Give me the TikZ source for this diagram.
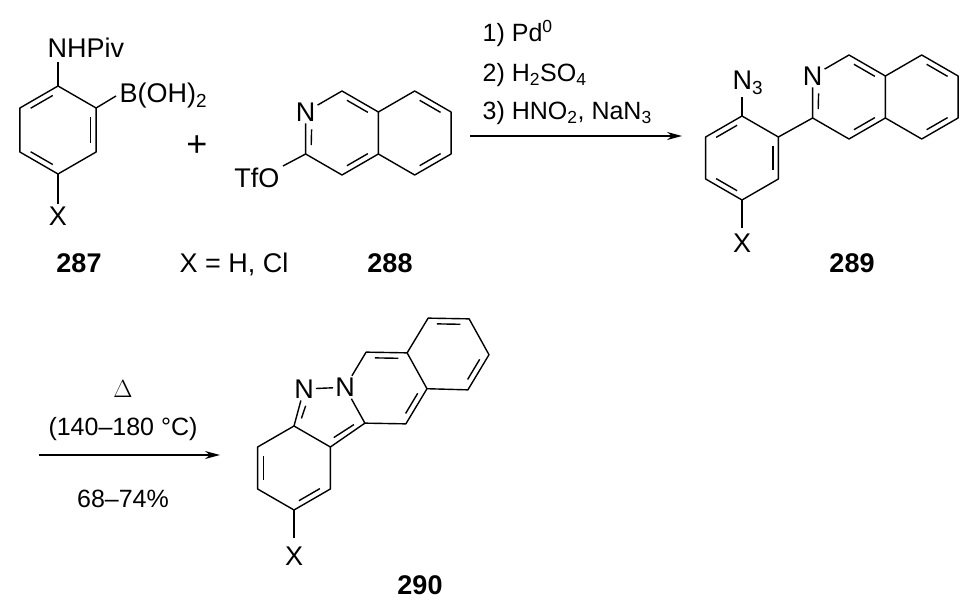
\documentclass[tikz,border=0pt]{standalone}
\usepackage{fontspec}
\setmainfont{Liberation Sans}
\usetikzlibrary{calc, arrows.meta}

\newcommand\hexring[5]{%
  \coordinate (#1c) at (#2,#3);
  \foreach \k in {1,...,6}{\coordinate (#1\k) at ($(#2,#3)+({#5+60*(\k-1)}:#4)$);}}
\newcommand\dbl[4][0.16]{%
  \path ($(#2)!#1!(#3)$) coordinate (da) ($(#3)!0.16!(#2)$) coordinate (db);
  \draw ($(da)!6pt!(#4)$) -- ($(db)!6pt!(#4)$);}

\tikzset{
  lbl/.style={font=\fontsize{27}{32}\selectfont, inner sep=1pt},
  cond/.style={font=\fontsize{25}{30}\selectfont, inner sep=0pt},
  num/.style={font=\fontsize{27}{32}\selectfont\bfseries, inner sep=0pt},
  atom/.style={lbl, inner sep=1.5pt}
}

\begin{document}
\begin{tikzpicture}[x=1pt, y=1pt, line width=1.4pt, line join=round]
    \useasboundingbox (0,0) rectangle (979,600);

    % 287
    \hexring{a}{58}{470}{44}{90}
    \draw (a1) -- (a2) -- (a3) -- (a4) -- (a5) -- (a6) -- cycle;
    \dbl{a1}{a2}{ac} \dbl{a3}{a4}{ac} \dbl{a5}{a6}{ac}
    \coordinate (aN) at (58,538);
    \coordinate (aB) at (116,504);
    \coordinate (aX) at (58,396);
    \draw (a1) -- (aN);
    \draw (a6) -- (aB);
    \draw (a4) -- (aX);
    \node[lbl, anchor=base west] at (46,542) {NHPiv};
    \node[lbl, anchor=base west] at (118,497) {B(OH)\textsubscript{2}};
    \node[lbl, anchor=base] at (58,374) {X};

    \node[lbl, font=\fontsize{36}{40}\selectfont] (plus) at (197,454) {+};

    % 288
    \hexring{b}{342}{467}{42}{90}
    \hexring{bb}{414.7}{467}{42}{90}
    \node[atom] (bN) at (b2) {N};
    \draw (bN) -- (b1) -- (b6) -- (b5) -- (b4) -- (b3) -- (bN);
    \draw (b6) -- (bb1) -- (bb6) -- (bb5) -- (bb4) -- (b5);
    \dbl[0.4]{b2}{b3}{bc} \dbl{b6}{b1}{bc} \dbl{b4}{b5}{bc}
    \dbl{bb6}{bb1}{bbc} \dbl{bb4}{bb5}{bbc}
    \coordinate (bO) at (283,434);
    \draw (b3) -- (bO);
    \node[lbl, anchor=base east] at (281,412) {TfO};

    \node[num, anchor=base] at (79,327) {287};
    \node[lbl, anchor=base] at (234,327) {X = H, Cl};
    \node[num, anchor=base] at (390,327) {288};

    % arrow 1
    \coordinate (r1s) at (470,464);
    \coordinate (r1e) at (682,464);
    \draw[-{Stealth[length=15pt, width=8pt]}] (r1s) -- (r1e);
    \node[cond, anchor=base west] at (482,558) {1) Pd\textsuperscript{0}};
    \node[cond, anchor=base west] at (482,518) {2) H\textsubscript{2}SO\textsubscript{4}};
    \node[cond, anchor=base west] at (482,480) {3) HNO\textsubscript{2}, NaN\textsubscript{3}};

    % 289
    \hexring{c}{742}{442}{42}{90}
    \draw (c1) -- (c2) -- (c3) -- (c4) -- (c5) -- (c6) -- cycle;
    \dbl{c1}{c2}{cc} \dbl{c3}{c4}{cc} \dbl{c5}{c6}{cc}
    \coordinate (cN) at (742,503);
    \coordinate (cX) at (742,372);
    \draw (c1) -- (cN);
    \draw (c4) -- (cX);
    \node[lbl, anchor=base west] at (731,510) {N\textsubscript{3}};
    \node[lbl, anchor=base] at (742,347) {X};
    \hexring{d}{849}{503}{42}{90}
    \hexring{dd}{921.7}{503}{42}{90}
    \node[atom] (dN) at (d2) {N};
    \draw (dN) -- (d1) -- (d6) -- (d5) -- (d4) -- (d3) -- (dN);
    \draw (d6) -- (dd1) -- (dd6) -- (dd5) -- (dd4) -- (d5);
    \dbl[0.4]{d2}{d3}{dc} \dbl{d6}{d1}{dc} \dbl{d4}{d5}{dc}
    \dbl{dd6}{dd1}{ddc} \dbl{dd4}{dd5}{ddc}
    \draw (c6) -- (d3);
    \node[num, anchor=base] at (852,327) {289};

    % arrow 2
    \coordinate (r2s) at (39,145);
    \coordinate (r2e) at (220,145);
    \draw[-{Stealth[length=15pt, width=8pt]}] (r2s) -- (r2e);
    \node[cond, anchor=base] at (123,202) {$\Delta$};
    \node[cond, anchor=base] at (123,165) {(140--180 °C)};
    \node[cond, anchor=base] at (123,93) {68--74\%};

    % 290
    \hexring{e}{294}{132}{42}{90}
    \hexring{f}{386}{212}{41}{-1}
    \hexring{g}{448}{246}{41}{-1}
    \coordinate (n1c) at (304,211);
    \coordinate (c5) at (324,188);
    \node[atom] (eN1) at (n1c) {N};
    \node[atom] (eN2) at (f4) {N};
    \draw (e1) -- (e2) -- (e3) -- (e4) -- (e5) -- (e6) -- cycle;
    \draw (e1) -- (eN1) -- (eN2);
    \draw (eN2) -- (f3) -- (f2) -- (f1) -- (f6) -- (f5) -- (eN2);
    \draw (f5) -- (e6);
    \draw (f2) -- (g3) -- (g2) -- (g1) -- (g6) -- (f1);
    \dbl{e2}{e3}{ec} \dbl{e4}{e5}{ec}
    \dbl[0.4]{n1c}{e1}{c5} \dbl{f5}{e6}{c5}
    \dbl{f3}{f2}{fc} \dbl{f1}{f6}{fc}
    \dbl{g2}{g3}{gc} \dbl{g1}{g6}{gc}
    \coordinate (eX) at (294,62);
    \draw (e4) -- (eX);
    \node[lbl, anchor=base] at (294,35) {X};
    \node[num, anchor=base] at (420,6) {290};
\end{tikzpicture}
\end{document}
